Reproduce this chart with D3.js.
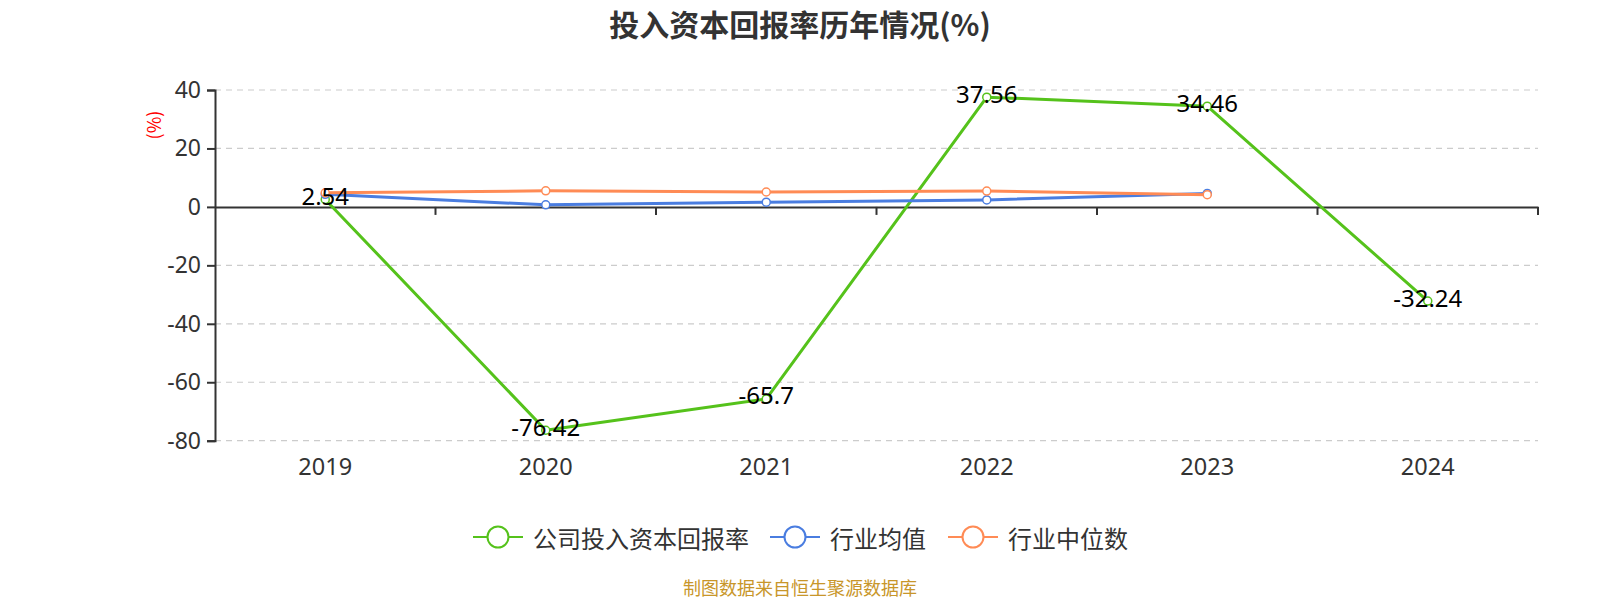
<!DOCTYPE html>
<html><head><meta charset="utf-8">
<script src="https://cdn.jsdelivr.net/npm/d3@7/dist/d3.min.js"></script>
<style>body{margin:0;background:#fff;} svg{display:block;font-family:"Noto Sans CJK SC","Noto Sans",sans-serif;}</style>
</head><body>
<svg id="chart" width="1600" height="600"></svg>
<script>
const years = ["2019","2020","2021","2022","2023","2024"];
const companyROIC = [2.54, -76.42, -65.7, 37.56, 34.46, -32.24];
const industryAvg = [4.3, 0.7, 1.6, 2.4, 4.6];
const industryMedian = [4.8, 5.5, 5.1, 5.4, 4.2];
const yTicks = [40, 20, 0, -20, -40, -60, -80];
const seriesNames = ["公司投入资本回报率", "行业均值", "行业中位数"];
const colors = ["#55c21b", "#4a7de0", "#ff8b55"];

const svg = d3.select("#chart");
const pLeft = 215, pRight = 1538, pTop = 90, pBottom = 440.7;
const x = d3.scaleBand().domain(years).range([pLeft, pRight]);
const y = d3.scaleLinear().domain([-80, 40]).range([pBottom, pTop]);

// title
svg.append("text").attr("x", 800).attr("y", 23).attr("text-anchor", "middle")
  .attr("dominant-baseline", "central").attr("font-size", 30).attr("font-weight", "bold")
  .attr("fill", "#333").text("投入资本回报率历年情况(%)");

// grid
svg.append("g").selectAll("line").data(yTicks.filter(d => d !== 0)).join("line")
  .attr("x1", pLeft).attr("x2", pRight).attr("y1", d => y(d)).attr("y2", d => y(d))
  .attr("stroke", "#ccc").attr("stroke-width", 1.2).attr("stroke-dasharray", "6,5");

// y axis
const yAxis = svg.append("g").attr("transform", `translate(${pLeft},0)`)
  .call(d3.axisLeft(y).tickValues(yTicks).tickSize(8).tickPadding(6).tickFormat(d => String(d)));
yAxis.select(".domain").attr("stroke", "#333").attr("stroke-width", 2);
yAxis.selectAll(".tick line").attr("stroke", "#333").attr("stroke-width", 2);
yAxis.selectAll(".tick text").attr("font-size", 23).attr("fill", "#333")
  .attr("font-family", "'Noto Sans',sans-serif");

// y axis name
svg.append("text").attr("transform", `translate(153,125) rotate(-90)`)
  .attr("text-anchor", "middle").attr("dominant-baseline", "central")
  .attr("font-size", 18).attr("fill", "red").text("(%)");

// x axis at zero
const xAxis = svg.append("g").attr("transform", `translate(0,${y(0)})`)
  .call(d3.axisBottom(x).tickSize(0).tickFormat(""));
xAxis.select(".domain").attr("stroke", "#333").attr("stroke-width", 2);
xAxis.selectAll(".tick").remove();
const bounds = years.map((d) => x(d)).concat([pRight]).slice(1);
svg.append("g").selectAll("line").data(bounds).join("line")
  .attr("x1", d => d).attr("x2", d => d).attr("y1", y(0)).attr("y2", y(0) + 8)
  .attr("stroke", "#333").attr("stroke-width", 2);

// x labels
svg.append("g").selectAll("text").data(years).join("text")
  .attr("x", d => x(d) + x.bandwidth() / 2).attr("y", 466)
  .attr("text-anchor", "middle").attr("dominant-baseline", "central")
  .attr("font-size", 23.5).attr("fill", "#333").attr("font-family", "'Noto Sans',sans-serif")
  .text(d => d);

const cx = (i) => x(years[i]) + x.bandwidth() / 2;
const line = d3.line().x((d, i) => cx(i)).y(d => y(d));

function drawSeries(vals, color) {
  const g = svg.append("g");
  g.append("path").datum(vals).attr("d", line).attr("fill", "none")
    .attr("stroke", color).attr("stroke-width", 3).attr("stroke-linejoin", "round");
  g.selectAll("circle").data(vals).join("circle")
    .attr("cx", (d, i) => cx(i)).attr("cy", d => y(d)).attr("r", 4)
    .attr("fill", "#fff").attr("stroke", color).attr("stroke-width", 1.5);
}
drawSeries(companyROIC, colors[0]);
drawSeries(industryAvg, colors[1]);
drawSeries(industryMedian, colors[2]);

// data labels
svg.append("g").selectAll("text").data(companyROIC).join("text")
  .attr("x", (d, i) => cx(i)).attr("y", d => y(d) - 4)
  .attr("text-anchor", "middle").attr("dominant-baseline", "central")
  .attr("font-size", 24).attr("fill", "#000").attr("font-family", "'Noto Sans',sans-serif")
  .text(d => d);

// legend
const legendItems = [
  {name: seriesNames[0], color: colors[0], x: 473},
  {name: seriesNames[1], color: colors[1], x: 770},
  {name: seriesNames[2], color: colors[2], x: 948}
];
const lg = svg.append("g");
legendItems.forEach(it => {
  const ly = 537;
  lg.append("line").attr("x1", it.x).attr("x2", it.x + 50).attr("y1", ly).attr("y2", ly)
    .attr("stroke", it.color).attr("stroke-width", 2);
  lg.append("circle").attr("cx", it.x + 25).attr("cy", ly).attr("r", 10.5)
    .attr("fill", "#fff").attr("stroke", it.color).attr("stroke-width", 2);
  lg.append("text").attr("x", it.x + 60).attr("y", ly).attr("dominant-baseline", "central")
    .attr("font-size", 24).attr("fill", "#333").text(it.name);
});

// footer
svg.append("text").attr("x", 800).attr("y", 587).attr("text-anchor", "middle")
  .attr("dominant-baseline", "central").attr("font-size", 18).attr("fill", "#c8962a")
  .text("制图数据来自恒生聚源数据库");
</script>
</body></html>
